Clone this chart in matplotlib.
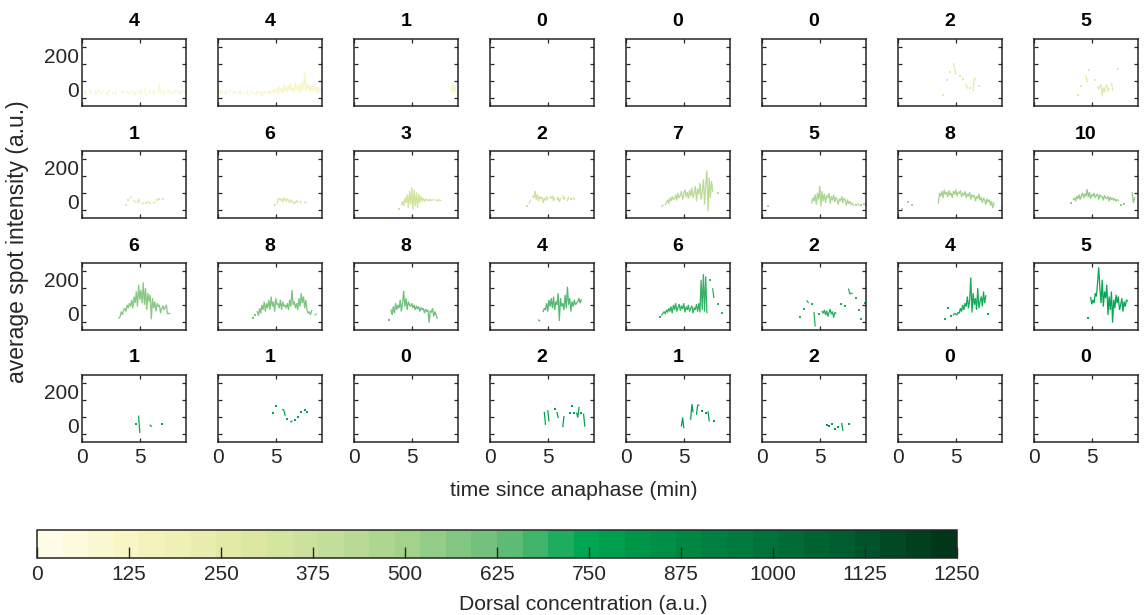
import numpy as np
import matplotlib
matplotlib.use("Agg")
import matplotlib as mpl
import matplotlib.pyplot as plt
from matplotlib.colors import LinearSegmentedColormap, ListedColormap, Normalize

plt.rcParams['font.family'] = ['Liberation Sans', 'DejaVu Sans']
plt.rcParams['text.color'] = '#262626'

nan = np.nan

# number of nuclei per bin (panel titles), left to right, top to bottom
TITLES = [4, 4, 1, 0, 0, 0, 2, 5,
          1, 6, 3, 2, 7, 5, 8, 10,
          6, 8, 8, 4, 6, 2, 4, 5,
          1, 1, 0, 2, 1, 2, 0, 0]

# dorsal concentration of each bin (a.u.)
BIN_CONC = [85, 95, 110, 130, 160, 190, 240, 260,
            290, 310, 340, 360, 420, 470, 500, 540,
            565, 590, 620, 650, 690, 705, 725, 745,
            750, 755, 760, 765, 770, 775, 780, 785]

DT = 0.1  # sampling interval (min)

# average spot intensity per panel, sampled every DT from its start time
R1C1 = [-20, -10, -30, nan, -15, -5, -25, nan, nan, -10, -30, -15, 0, -20, nan, -25, -10, nan, nan, -20,
        -35, -15, -5, nan, nan, -20, nan, -30, -10, nan, nan, nan, -15, -25, -5, -20, nan, -10, -30, -20,
        nan, -5, -25, -15, -35, -10, nan, -20, 0, -30, -15, nan, 10, -20, -40, nan, -25, -5, nan, -15,
        -30, -10, nan, nan, -20, 30, -25, nan, -10, -35, -15, nan, -20, 0, -10, -30, nan, -15, -25, -5,
        nan, -20, -10, -30, -15, nan, -5, -20, -25]
R1C2 = [-15, -25, -5, -20, nan, -10, -30, -15, nan, -20, -5, nan, -25, -10, -20, nan, nan, -15, -30, -10,
        nan, -20, -25, nan, -10, -35, nan, -20, -15, nan, -25, nan, -30, -10, -20, nan, -15, -40, -20, -10,
        -25, nan, -20, -5, -30, -15, -20, 0, -25, -10, 10, -30, 20, -15, 5, -25, 30, -10, 15, -20,
        25, -5, 35, -15, 10, -25, 40, 0, 20, -10, 30, -20, 45, -5, 100, -15, 35, 0, 25, -20,
        20, -10, 30, -5, 15, -25, 10, -15, 0, -20]
R1C3 = [10, -20, 35, -25, 20]
R1C7 = [-33, nan, nan, 58, nan, nan, 104, nan, nan, 155, 128, 88, nan, nan, nan, 78, nan, 64, nan, nan,
        27, 7, nan, 7, nan, nan, -9, 68, 60, nan, nan, 17]
R1C8 = [-37, nan, nan, 17, nan, nan, nan, 78, 47, nan, 114, nan, nan, nan, nan, 58, nan, 17, -3, 20,
        27, -43, 10, -20, 15, 27, -13, 5, nan, 37, -3, nan, nan, nan, nan, 122]
R2C1 = [-20, nan, 10, nan, 20, 25, nan, 5, -5, nan, -10, 15, -5, nan, -15, -10, nan, -10, nan, -5,
        -5, -15, nan, nan, -5, -10, nan, 5, nan, 15, nan, nan, 15]
R2C2 = [-20, nan, -10, 10, 20, 5, 15, -5, 20, 10, 0, 15, 5, -10, 10, -5, 0, -15, -10, 5,
        -5, nan, 0, -10, nan, nan, -5, -10]
R2C3 = [-45, nan, -20, 0, -30, 20, -10, 40, -40, 60, -20, 82, -50, 70, -30, 55, -40, 45, -10, 30,
        0, 20, -5, 15, 5, 10, 0, 12, 5, 8, 10, nan, 5, 10, 2, 8, 5]
R2C4 = [-30, nan, -10, 5, nan, 30, 20, 62, 10, 40, 0, 30, 15, 25, -10, 20, 5, 30, 10, nan,
        25, 15, 35, 0, 20, nan, 10, 25, -5, 15, nan, 30, 10, 20, nan, 5, 25, nan, 15, nan, 20, 10]
R2C5 = [-30, -25, nan, -20, -10, 10, -15, 20, 0, 30, 10, 15, 40, 5, 50, 20, 35, 60, 10, 45,
        70, 25, 55, 15, 65, 30, 80, 20, 50, 90, 0, 75, 40, 110, 10, 60, 130, -20, 100, 183,
        -60, 140, 20, 120, 60, nan, nan, nan, nan, 52]
R2C6 = [-10, 20, 0, 40, -20, 50, 10, 92, -30, 60, 0, 45, -10, 35, 20, 50, -15, 30, 5, 40,
        -5, 25, 10, -20, 15, 0, 30, -10, 20, 5, -25, 10, -15, 0, -20, -10, -25, nan, -20, nan,
        -15, -25, nan, -20, nan, -15, nan, -20]
R2C7 = [-10, 50, 30, 60, 20, 70, 40, 55, 25, 65, 35, 50, 20, 60, 40, 70, 30, 55, 45, 65,
        25, 50, 35, 60, 20, 45, 30, 55, 10, 40, 25, 35, 0, 30, 15, 45, 5, 25, -10, 20,
        5, -20, 15, -5, 10, -25, 0, -40, -10, nan, nan, nan, nan, nan, nan, -40]
R2C8 = [-10, nan, 10, 20, 0, 30, 15, 40, 10, 35, 50, 20, 45, 30, 72, 25, 55, 15, 40, 30,
        50, 20, 35, 45, 10, 40, 25, 30, 5, 35, 20, 15, 30, 0, 25, 10, 20, 5, 15, 0,
        10, 5, nan, -20, nan, nan, -15, nan, nan, nan, nan, nan, nan, 50, -10, 20]
R3C1 = [-30, -20, 10, -10, 20, 30, 10, 50, 30, 60, 40, 80, 30, 100, 60, 130, 40, 170, 80, 140,
        60, 184, 50, 150, 20, 120, 70, 110, -36, 90, 30, 70, 10, 60, 40, 50, 0, 30, 45, 20,
        35, 50, -5, 0, -2]
R3C2 = [-30, nan, -10, nan, 10, -15, 30, 0, 50, 20, 70, 10, 60, 30, 80, 20, 100, 40, 70, 10,
        90, 50, 60, 30, 80, 20, 70, 40, 50, 30, 60, 20, 80, 40, 138, 50, 70, 30, 60, 20,
        90, 40, 120, 60, 100, 30, 80, 20, 0, 10, -10, 15, nan, nan, -10, -5]
R3C3 = [-40, nan, 20, -10, 40, 0, 60, 20, 50, 30, 80, 10, 60, 134, 40, 90, 20, 70, 50, 40,
        60, 30, 50, 20, 45, 25, 40, 10, 35, 20, 30, 0, 25, 10, 20, -56, 15, 5, 30, -20,
        10, -10, -30]
R3C4 = [-40, -45, nan, nan, 10, 30, 20, 60, 10, 80, 40, 90, 30, 100, 20, 70, 50, 120, -46, 90,
        40, 60, 20, 110, 30, 158, 50, 90, 10, 70, 40, 80, 50, 60, 70, 90, 60, 80]
R3C5 = [-20, nan, -10, 0, 10, -5, 20, 5, 30, 10, 40, 0, 50, 20, 60, 10, 35, 55, 15, 45,
        25, 60, 5, 40, 20, 50, 10, 30, 45, 0, 35, 20, 55, 10, 60, 5, 200, 20, 234, 10,
        220, 4, nan, nan, 198, nan, 146, 94, nan, nan, nan, 54, nan, nan, 4]
R3C6 = [-20, nan, nan, 24, nan, nan, 74, 64, nan, nan, 54, nan, 4, -76, nan, nan, -2, nan, nan, 10,
        0, 20, -10, 15, -20, 5, 25, -5, 10, -26, 5, 0, nan, nan, nan, 54, nan, nan, nan, 44,
        nan, nan, 144, 114, 120, 118, nan, nan, 94, nan, nan, 18, nan, -36, nan, nan, 64]
R3C7 = [-36, nan, 34, nan, nan, -16, nan, -10, 0, -5, -10, 5, 0, 30, 10, 50, 20, 60, 40, 100,
        30, 80, 214, 4, 120, 50, 90, 20, 150, 30, 70, 100, 40, 130, 60, 104, nan, -6]
R3C8 = [-26, nan, 94, 54, 80, 60, 120, 100, 180, 274, 150, 60, 200, 40, 130, 90, 170, -10, 100, 20,
        130, -56, 80, 30, 110, 60, 100, 20, 50, 90, 10, 70, 40, 80, 74]
R4C1 = [10, nan, 54, -42, nan, nan, nan, nan, nan, nan, nan, nan, 0, -6, nan, nan, nan, nan, nan, nan,
        nan, nan, 6]
R4C2 = [74, nan, 114, nan, nan, nan, nan, nan, 94, 90, 60, nan, 40, nan, nan, 20, 25, nan, nan, 34,
        nan, 50, nan, nan, 80, nan, nan, 90, nan, 80]
R4C4 = [76, 6, nan, 86, 26, nan, nan, nan, nan, 100, nan, 76, 46, nan, nan, nan, -8, 52, nan, nan,
        nan, nan, 76, nan, 116, nan, 76, nan, 72, 46, 106, nan, 76, nan, 66, -4]
R4C5 = [-4, 46, -14, nan, nan, nan, nan, nan, 36, 126, 80, nan, nan, 66, 120, 120, nan, nan, 86, nan,
        nan, 76, nan, 80, 26, nan, nan, nan, 26]
R4C6 = [0, nan, -4, nan, nan, 6, nan, -20, nan, nan, -10, nan, nan, 10, -30, nan, nan, nan, nan, 10]

TRACES = [R1C1, R1C2, R1C3, None, None, None, R1C7, R1C8,
          R2C1, R2C2, R2C3, R2C4, R2C5, R2C6, R2C7, R2C8,
          R3C1, R3C2, R3C3, R3C4, R3C5, R3C6, R3C7, R3C8,
          R4C1, R4C2, None, R4C4, R4C5, R4C6, None, None]
T_START = [0.2, 0.1, 8.4, None, None, None, 3.9, 3.8,
           3.8, 4.9, 3.9, 3.2, 3.1, 4.3, 3.5, 3.2,
           3.2, 3.0, 3.0, 4.2, 2.9, 3.3, 4.1, 4.7,
           4.7, 4.8, None, 4.7, 4.8, 5.6, None, None]

# isolated early spots: panel index, time, intensity
STRAY_PANEL = [13, 14, 14, 14]
STRAY_T = [0.5, 0.35, 0.9, 1.2]
STRAY_Y = [-30, -45, -5, -20]

CBAR_TICKS = [0, 125, 250, 375, 500, 625, 750, 875, 1000, 1125, 1250]
CMAX = 1250

# yellow -> green colormap, as in the colour bar
cmap_smooth = LinearSegmentedColormap.from_list('dorsal', [
    (0.00, '#fffde8'), (0.10, '#f6f4be'), (0.20, '#e3eaa6'), (0.30, '#c8e09a'),
    (0.40, '#a3d28b'), (0.50, '#6dbe7b'), (0.60, '#00a651'), (0.70, '#008b45'),
    (0.80, '#00733a'), (0.90, '#00592d'), (1.00, '#00361a')])
cmap = ListedColormap(cmap_smooth(np.linspace(0, 1, 36)))
norm = Normalize(0, CMAX)

W, H = 1144, 615
fig = plt.figure(figsize=(W / 100, H / 100), dpi=100)

for k in range(32):
    r, c = divmod(k, 8)
    left = 82 + 136 * c
    top = 39 + 112 * r
    ax = fig.add_axes([left / W, 1 - (top + 67) / H, 104 / W, 67 / H])
    col = cmap_smooth(norm(BIN_CONC[k]))

    if TRACES[k] is not None:
        y = np.array(TRACES[k], dtype=float)
        t = T_START[k] + DT * np.arange(len(y))
        ax.plot(t, y, color=col, lw=0.9, solid_joinstyle='miter')
        # lone samples would vanish as lines, so mark them
        fin = np.isfinite(y)
        prev = np.r_[False, fin[:-1]]
        nxt = np.r_[fin[1:], False]
        lone = fin & ~prev & ~nxt
        ax.plot(t[lone], y[lone], ls='none', marker='s', ms=1.6, mew=0, color=col)

    for p, ts, ys in zip(STRAY_PANEL, STRAY_T, STRAY_Y):
        if p == k:
            ax.plot([ts], [ys], ls='none', marker='s', ms=1.6, mew=0, color=col)

    ax.set_xlim(0, 9)
    ax.set_ylim(-100, 300)
    ax.set_xticks([0, 5])
    ax.set_yticks([0, 200])
    ax.set_yticks([-50, 50, 150, 250], minor=True)
    ax.tick_params(which='both', direction='in', top=True, right=True,
                   labelsize=15, colors='#262626', width=0.9)
    ax.tick_params(axis='y', which='major', length=0, pad=2)
    ax.tick_params(axis='y', which='minor', length=3)
    ax.tick_params(axis='x', which='major', length=3, pad=4)
    if c != 0:
        ax.set_yticklabels([])
    if r != 3:
        ax.set_xticklabels([])
    for sp in ax.spines.values():
        sp.set_color('#262626')
        sp.set_linewidth(1.1)
    ax.set_title(str(TITLES[k]), fontsize=14, fontweight='bold', pad=9, color='#000000')

fig.text(18 / W, 1 - 242 / H, 'average spot intensity (a.u.)', rotation=90,
         ha='center', va='center', fontsize=16.5)
fig.text(574 / W, 1 - 490 / H, 'time since anaphase (min)',
         ha='center', va='center', fontsize=15.2)

cax = fig.add_axes([37 / W, 1 - 558 / H, 920 / W, 28 / H])
cb = mpl.colorbar.ColorbarBase(cax, cmap=cmap, norm=norm, orientation='horizontal',
                               ticks=CBAR_TICKS)
cb.ax.tick_params(direction='in', length=8, width=1, labelsize=15, pad=5,
                  colors='#262626')
cb.outline.set_linewidth(1.1)
cb.outline.set_edgecolor('#262626')
fig.text(583 / W, 1 - 604 / H, 'Dorsal concentration (a.u.)',
         ha='center', va='center', fontsize=15.2)

fig.savefig('out.png', dpi=100)
